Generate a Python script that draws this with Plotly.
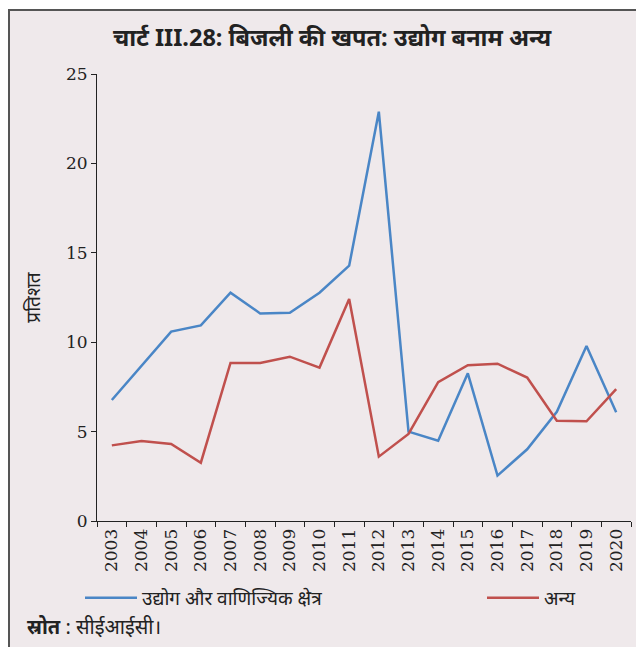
import plotly.graph_objects as go

# data
years = [str(y) for y in range(2003, 2021)]
industry = [6.77, 8.7, 10.59, 10.94, 12.77, 11.61, 11.65, 12.77, 14.28, 22.89,
            5.0, 4.49, 8.26, 2.54, 4.01, 6.11, 9.79, 6.08]
others = [4.23, 4.47, 4.31, 3.26, 8.84, 8.84, 9.19, 8.58, 12.42, 3.6,
          4.87, 7.76, 8.71, 8.80, 8.02, 5.61, 5.58, 7.37]
y_ticks = [0, 5, 10, 15, 20, 25]

title_txt = '<b>चार्ट III.28: बिजली की खपत: उद्योग बनाम अन्य</b>'
name_ind = 'उद्योग और वाणिज्यिक क्षेत्र'
name_oth = 'अन्य'
source_txt = '<b>स्रोत</b> : सीईआईसी।'

bg = '#efe9eb'
hind = 'Noto Sans, Lato, sans-serif'
serif = 'DejaVu Serif, Liberation Serif, serif'
ink = '#222222'

# page body has an 8px margin, so the figure is 8px smaller than the window
W, H = 636, 639

fig = go.Figure()
fig.add_trace(go.Scatter(x=years, y=industry, mode='lines', name=name_ind,
                         line=dict(color='#4a86c6', width=2.5), legend='legend'))
fig.add_trace(go.Scatter(x=years, y=others, mode='lines', name=name_oth,
                         line=dict(color='#c0504d', width=2.5), legend='legend2'))

# pink frame behind everything
fig.add_shape(type='rect', xref='paper', yref='paper', layer='below',
              x0=-0.1648, x1=1.08, y0=-0.34, y1=1.1432,
              fillcolor=bg, line=dict(color='#555555', width=2))

fig.add_annotation(text=title_txt, xref='paper', yref='paper', x=0.441, y=1.0828,
                   xanchor='center', yanchor='middle', showarrow=False,
                   font=dict(family=hind, size=23.5, color=ink))
fig.add_annotation(text=source_txt, xref='paper', yref='paper', x=-0.1348, y=-0.235,
                   xanchor='left', yanchor='middle', showarrow=False,
                   font=dict(family=hind, size=20, color=ink))

leg = dict(orientation='h', xref='container', yref='container', yanchor='middle',
           xanchor='left', y=1 - 590 / H, bgcolor='rgba(0,0,0,0)', itemwidth=52,
           font=dict(family=hind, size=19, color=ink))

fig.update_layout(
    width=W, height=H,
    margin=dict(l=89, r=W - 89 - 534, t=66, b=H - 66 - 447, autoexpand=False),
    paper_bgcolor='white', plot_bgcolor='rgba(0,0,0,0)',
    showlegend=True,
    legend=dict(leg, x=72 / W),
    legend2=dict(leg, x=474 / W),
)
fig.update_xaxes(type='category', range=[-0.5, len(years) - 0.5],
                 showline=True, linecolor=ink, linewidth=1,
                 ticks='outside', tickson='boundaries', ticklen=5, tickcolor=ink,
                 tickangle=-90, showgrid=False, zeroline=False,
                 tickfont=dict(family=serif, size=17, color=ink))
fig.update_yaxes(range=[0, 25], tickvals=y_ticks, showline=True, linecolor=ink,
                 linewidth=1, ticks='outside', ticklen=5, tickcolor=ink,
                 showgrid=False, zeroline=False,
                 tickfont=dict(family=serif, size=17, color=ink),
                 title=dict(text='प्रतिशत', standoff=20,
                            font=dict(family=hind, size=19, color=ink)))

fig.write_html("out.html")
